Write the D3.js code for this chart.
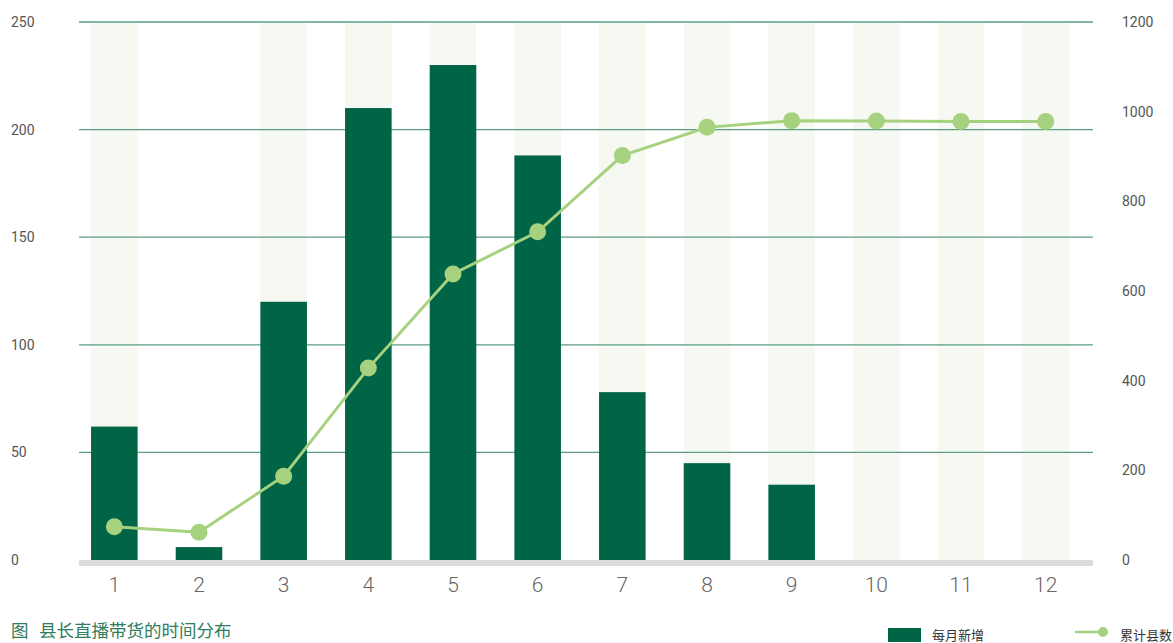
<!DOCTYPE html>
<html>
<head>
<meta charset="utf-8">
<script src="https://cdn.jsdelivr.net/npm/d3@7"></script>
<style>
  html, body { margin: 0; padding: 0; background: #fff; }
  svg { display: block; font-family: Roboto, "Noto Sans CJK SC", sans-serif; }
</style>
</head>
<body>
<div id="chart"></div>
<script>
// Data
const months = ["1", "2", "3", "4", "5", "6", "7", "8", "9", "10", "11", "12"];
const monthlyNew = [62, 6, 120, 210, 230, 188, 78, 45, 35, 0, 0, 0]; // 每月新增
const cumulative = [74, 62, 187, 428, 638, 732, 902, 965, 980, 979, 978, 978]; // 累计县数
const bandShown = [1, 0, 1, 1, 1, 1, 1, 1, 1, 1, 1, 1]; // light background columns
const leftTicks = [0, 50, 100, 150, 200, 250];
const rightTicks = [0, 200, 400, 600, 800, 1000, 1200];
const seriesNames = ["每月新增", "累计县数"];
const titleLabel = "图";
const title = "县长直播带货的时间分布";

const width = 1173, height = 643;
const plotLeft = 79, plotRight = 1093, plotTop = 22, plotBottom = 560;

const barColor = "#006446";
const lineColor = "#a6d27f";
const gridColor = "#5a9e82";
const bandColor = "#f6f9f1";

const svg = d3.select("#chart")
    .append("svg")
    .attr("width", width)
    .attr("height", height);

// Scales
const x = d3.scaleBand()
    .domain(months)
    .range([72, 1088])
    .paddingInner(0.45)
    .paddingOuter(0.225);

const yLeft = d3.scaleLinear().domain([0, 250]).range([plotBottom, plotTop]);
const yRight = d3.scaleLinear().domain([0, 1200]).range([plotBottom, plotTop]);

// Background columns
svg.append("g")
    .selectAll("rect")
    .data(months.filter((m, i) => bandShown[i]))
    .join("rect")
    .attr("x", d => x(d))
    .attr("y", plotTop)
    .attr("width", x.bandwidth())
    .attr("height", plotBottom - plotTop)
    .attr("fill", bandColor);

// Horizontal grid lines (left axis ticks)
svg.append("g")
    .selectAll("line")
    .data(leftTicks.filter(t => t > 0))
    .join("line")
    .attr("x1", plotLeft)
    .attr("x2", plotRight)
    .attr("y1", d => yLeft(d))
    .attr("y2", d => yLeft(d))
    .attr("stroke", gridColor)
    .attr("stroke-width", 1.3);

// Bars
svg.append("g")
    .selectAll("rect")
    .data(months)
    .join("rect")
    .attr("x", d => x(d))
    .attr("y", (d, i) => yLeft(monthlyNew[i]))
    .attr("width", x.bandwidth())
    .attr("height", (d, i) => plotBottom - yLeft(monthlyNew[i]))
    .attr("fill", barColor);

// Baseline
svg.append("rect")
    .attr("x", plotLeft)
    .attr("y", plotBottom)
    .attr("width", plotRight - plotLeft)
    .attr("height", 6)
    .attr("fill", "#dcdcdc");

// Left axis labels
svg.append("g")
    .selectAll("text")
    .data(leftTicks)
    .join("text")
    .attr("x", 11)
    .attr("y", d => yLeft(d))
    .attr("dy", "0.35em")
    .attr("font-size", 14)
    .attr("fill", "#555")
    .text(d => d);

// Right axis labels
svg.append("g")
    .selectAll("text")
    .data(rightTicks)
    .join("text")
    .attr("x", 1122)
    .attr("y", d => yRight(d))
    .attr("dy", "0.35em")
    .attr("font-size", 14)
    .attr("fill", "#555")
    .text(d => d);

// X axis labels
svg.append("g")
    .selectAll("text")
    .data(months)
    .join("text")
    .attr("x", d => x(d) + x.bandwidth() / 2)
    .attr("y", 592)
    .attr("text-anchor", "middle")
    .attr("font-size", 21)
    .attr("font-weight", 300)
    .attr("fill", "#666")
    .text(d => d);

// Cumulative line
const line = d3.line()
    .x((d, i) => x(months[i]) + x.bandwidth() / 2)
    .y(d => yRight(d));

svg.append("path")
    .datum(cumulative)
    .attr("d", line)
    .attr("fill", "none")
    .attr("stroke", lineColor)
    .attr("stroke-width", 3);

svg.append("g")
    .selectAll("circle")
    .data(cumulative)
    .join("circle")
    .attr("cx", (d, i) => x(months[i]) + x.bandwidth() / 2)
    .attr("cy", d => yRight(d))
    .attr("r", 8.5)
    .attr("fill", lineColor);

// Title
const titleText = svg.append("text")
    .attr("y", 637)
    .attr("font-size", 17.5)
    .attr("font-family", "'Noto Sans CJK SC', sans-serif")
    .attr("fill", "#2f7d5c");
titleText.append("tspan").attr("x", 11).text(titleLabel);
titleText.append("tspan").attr("x", 39).text(title);

// Legend
const legend = svg.append("g").attr("font-size", 13).attr("fill", "#333")
    .attr("font-family", "'Noto Sans CJK SC', sans-serif");

legend.append("rect")
    .attr("x", 888).attr("y", 628)
    .attr("width", 33).attr("height", 14)
    .attr("fill", barColor);
legend.append("text")
    .attr("x", 932).attr("y", 640)
    .text(seriesNames[0]);

legend.append("line")
    .attr("x1", 1075).attr("x2", 1103)
    .attr("y1", 632).attr("y2", 632)
    .attr("stroke", lineColor).attr("stroke-width", 2.5);
legend.append("circle")
    .attr("cx", 1103).attr("cy", 632).attr("r", 5)
    .attr("fill", lineColor);
legend.append("text")
    .attr("x", 1120).attr("y", 640)
    .text(seriesNames[1]);
</script>
</body>
</html>
